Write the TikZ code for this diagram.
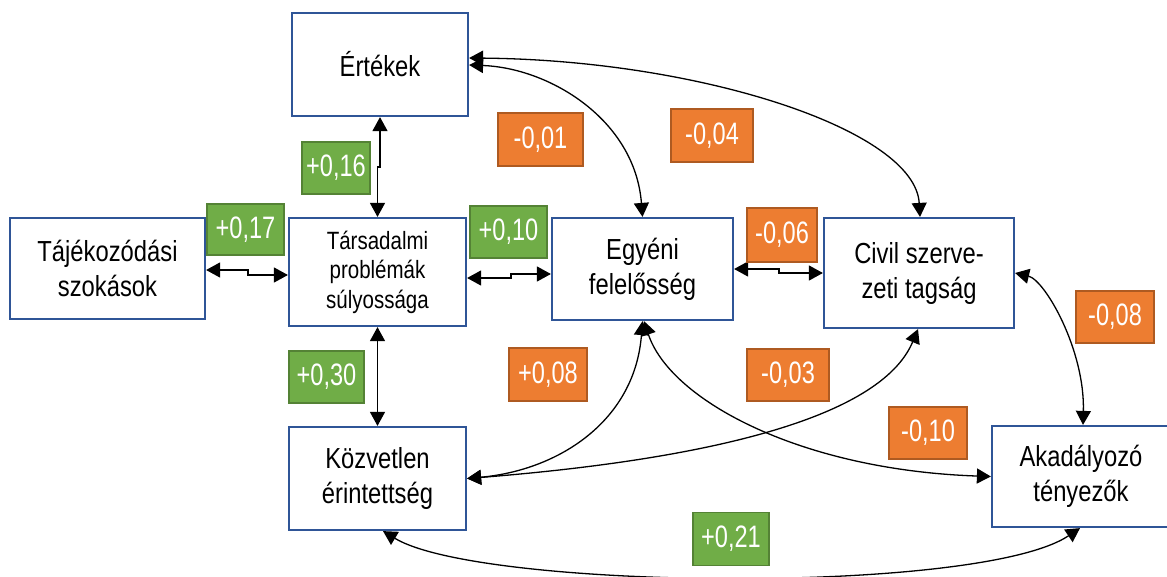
\documentclass[tikz,border=0pt]{standalone}
\usepackage{fontspec}
\setmainfont[FakeStretch=0.82]{Liberation Sans}
\newfontfamily\labfont[FakeStretch=0.76]{Liberation Sans}
\usetikzlibrary{arrows.meta}
\definecolor{boxblue}{RGB}{47,85,151}
\definecolor{pgreen}{RGB}{112,173,71}
\definecolor{pgreenedge}{RGB}{84,130,53}
\definecolor{porange}{RGB}{237,125,49}
\definecolor{porangeedge}{RGB}{174,90,33}

\begin{document}
\begin{tikzpicture}[x=1pt,y=-1pt,
  var/.style={draw=boxblue,line width=2.2pt,fill=white,align=center,inner sep=0pt,
    font=\fontsize{29}{35}\selectfont},
  coef/.style={fill=pgreen,draw=pgreenedge,line width=1.6pt,text=white,inner sep=0pt,
    font=\labfont\fontsize{31}{31}\selectfont},
  poscoef/.style={coef},
  negcoef/.style={coef,fill=porange,draw=porangeedge},
  link/.style={{Triangle[length=14pt,width=15pt]}-{Triangle[length=14pt,width=15pt]},
    line width=1.3pt}]
\useasboundingbox (0,0) rectangle (1167,576);

% variables
\node[var,minimum width=176pt,minimum height=103pt] (vals) at (380,64.5) {Értékek};
\node[var,minimum width=195pt,minimum height=101pt] (taj) at (107.5,268.5) {Tájékozódási\\szokások};
\node[var,minimum width=177pt,minimum height=108pt,font=\fontsize{25}{29.5}\selectfont]
  (tars) at (377.5,272) {Társadalmi\\problémák\\súlyossága};
\node[var,minimum width=181pt,minimum height=102pt] (egy) at (642.5,269) {Egyéni\\felelősség};
\node[var,minimum width=190pt,minimum height=110pt] (civ) at (919,273) {Civil szerve-\\zeti tagság};
\node[var,minimum width=177pt,minimum height=103pt] (koz) at (377.5,478.5) {Közvetlen\\érintettség};
\node[var,minimum width=178pt,minimum height=101pt] (aka) at (1081,476.5) {Akadályozó\\tényezők};

% straight and stepped links
\draw[link] (vals.south) -- ++(0,50) -| (tars.north);
\draw[link] ([yshift=-1.5pt]taj.east) -- ++(42,0) |- ([yshift=-3pt]tars.west);
\draw[link] ([yshift=-6pt]tars.east) -- ++(44,0) |- ([yshift=-5pt]egy.west);
\draw[link] (egy.east) -- ++(45,0) |- (civ.west);
\draw[link] (tars.south) -- (koz.north);

% curved links
\draw[link] ([yshift=-0.5pt]vals.east) .. controls (550,68) and (635,120) .. (egy.north);
\draw[link] ([yshift=6.5pt]vals.east) .. controls (700,60) and (915,130) .. ([xshift=1pt]civ.north);
\draw[link] (civ.east) .. controls (1045,280) and (1085,350) .. ([xshift=2pt]aka.north);
\draw[link] (egy.south) .. controls (635,420) and (560,470) .. (koz.east);
\draw[link] ([xshift=1.5pt]egy.south) .. controls (670,400) and (800,470) .. (aka.west);
\draw[link] (koz.east) .. controls (700,460) and (880,420) .. ([xshift=-1pt]civ.south);
\draw[link] ([xshift=5.5pt]koz.south) .. controls (480,590) and (980,595) .. ([xshift=-1pt]aka.south);

% coefficients
\node[poscoef,minimum width=68pt,minimum height=52pt] (c16) at (336,168) {+0,16};
\node[negcoef,minimum width=85pt,minimum height=53pt] (c01) at (540.5,139.5) {-0,01};
\node[negcoef,minimum width=82pt,minimum height=53pt] (c04) at (712,135.5) {-0,04};
\node[poscoef,minimum width=77pt,minimum height=51pt] (c17) at (245.5,229.5) {+0,17};
\node[poscoef,minimum width=77pt,minimum height=52pt] (c10) at (508.5,232) {+0,10};
\node[negcoef,minimum width=70pt,minimum height=54pt] (c06) at (782,235) {-0,06};
\node[poscoef,minimum width=75pt,minimum height=52pt] (c30) at (326.5,377) {+0,30};
\node[negcoef,minimum width=78pt,minimum height=53pt] (c08) at (548,374.5) {+0,08};
\node[negcoef,minimum width=82pt,minimum height=52pt] (c03) at (788,375) {-0,03};
\node[negcoef,minimum width=78pt,minimum height=52pt] (c10n) at (928,433) {-0,10};
\node[negcoef,minimum width=78pt,minimum height=52pt] (c08n) at (1115,317) {-0,08};
\node[poscoef,minimum width=76pt,minimum height=53pt] (c21) at (731,539) {+0,21};
\end{tikzpicture}
\end{document}
